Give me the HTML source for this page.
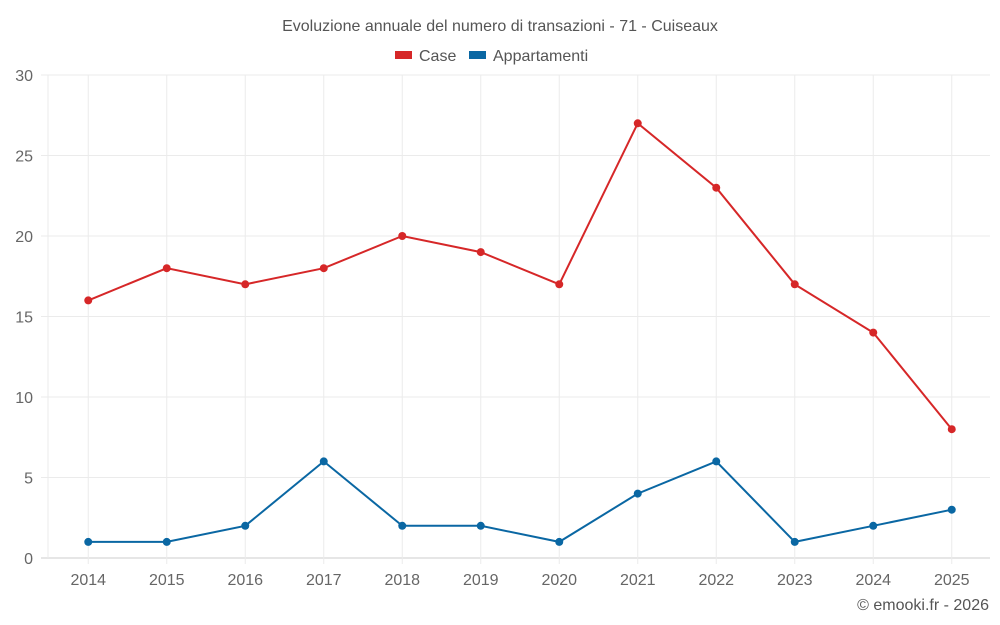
<!DOCTYPE html>
<html><head><meta charset="utf-8">
<style>
html,body{margin:0;padding:0;background:#fff;}
svg{display:block;font-family:"Liberation Sans",sans-serif;}
</style></head>
<body>
<svg id="chart" width="1000" height="625" viewBox="0 0 1000 625">
  <text x="500" y="31" text-anchor="middle" font-size="16" fill="#555">Evoluzione annuale del numero di transazioni - 71 - Cuiseaux</text>
  <g>
    <g>
      <rect x="395" y="51" width="17" height="8" fill="#d62728"></rect>
      <text x="419" y="61" font-size="16" fill="#555">Case</text>
    </g>
    <g>
      <rect x="469" y="51" width="17" height="8" fill="#0a67a3"></rect>
      <text x="493" y="61" font-size="16" fill="#555">Appartamenti</text>
    </g>
  </g>
  <g id="grid"></g>
  <g id="axes"></g>
  <g id="series"></g>
  <text x="989" y="610" text-anchor="end" font-size="16" fill="#555">© emooki.fr - 2026</text>
</svg>
<script>
const categories = ["2014","2015","2016","2017","2018","2019","2020","2021","2022","2023","2024","2025"];
const caseValues = [16,18,17,18,20,19,17,27,23,17,14,8];
const appValues = [1,1,2,6,2,2,1,4,6,1,2,3];
const yTicks = [0,5,10,15,20,25,30];

const NS = "http://www.w3.org/2000/svg";
const plotLeft = 48, plotRight = 990, plotTop = 75, plotBottom = 558, yMax = 30;
const step = (plotRight - plotLeft) / categories.length;
function xPos(i){ return plotLeft + step * (i + 0.5) + 1; }
function yPos(v){ return plotBottom - (v / yMax) * (plotBottom - plotTop); }
function mk(tag, attrs, parent){
  const e = document.createElementNS(NS, tag);
  for (const k in attrs) e.setAttribute(k, attrs[k]);
  parent.appendChild(e); return e;
}
const grid = document.getElementById('grid');
const axes = document.getElementById('axes');
const series = document.getElementById('series');

yTicks.forEach(t => {
  const y = yPos(t);
  const l = mk('line', {x1: 41, x2: plotRight, y1: y, y2: y, stroke: t === 0 ? '#ccc' : '#ebebeb', 'stroke-width': 1}, grid);
  
  
  const tx = mk('text', {x: 33, y: y + 6, 'text-anchor': 'end', 'font-size': 16, fill: '#666'}, axes);
  tx.textContent = t;
  
  
});
const l0 = mk('line', {x1: plotLeft, x2: plotLeft, y1: plotTop, y2: plotBottom, stroke: '#ebebeb', 'stroke-width': 1}, grid);


categories.forEach((c, i) => {
  const x = xPos(i);
  const g = mk('line', {x1: x, x2: x, y1: plotTop, y2: plotBottom + 6, stroke: '#ebebeb', 'stroke-width': 1}, grid);
  
  
  const tx = mk('text', {x: x, y: 585, 'text-anchor': 'middle', 'font-size': 16, fill: '#666'}, axes);
  tx.textContent = c;
  
  
});

function drawSeries(vals, color, name){
  const pts = vals.map((v, i) => xPos(i) + ',' + yPos(v)).join(' ');
  const pl = mk('polyline', {points: pts, fill: 'none', stroke: color, 'stroke-width': 2}, series);
  
  
  vals.forEach((v, i) => {
    const c = mk('circle', {cx: xPos(i), cy: yPos(v), r: 4, fill: color}, series);
    
    
  });
}
drawSeries(caseValues, '#d62728', 'case');
drawSeries(appValues, '#0a67a3', 'appartamenti');
</script>
</body></html>
